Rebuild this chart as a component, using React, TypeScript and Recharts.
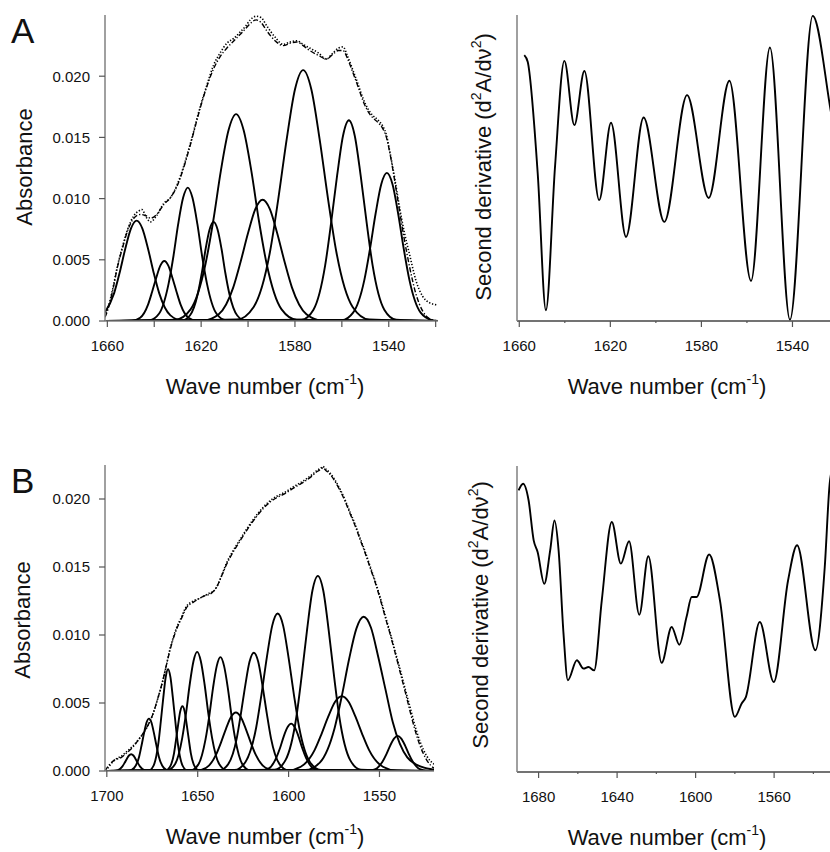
import { Line, LineChart, XAxis, YAxis } from "recharts";

type P = [number, number];

// A: Gaussian bands, [wave number, absorbance]
const bandsA: P[][] = [
  [[1661.9, 0.00046], [1657.1, 0.00228], [1654.7, 0.00399], [1652.3, 0.00595], [1649.9, 0.00757], [1647.5, 0.0082], [1645.1, 0.00757], [1642.7, 0.00595], [1640.3, 0.00399], [1637.9, 0.00228], [1633.1, 0.00046], [1628.3, 0.00005], [1519, 0]],
  [[1661, 0], [1649.5, 0.00003], [1646.0, 0.00027], [1642.6, 0.00136], [1640.9, 0.00239], [1639.1, 0.00356], [1637.4, 0.00452], [1635.7, 0.0049], [1634.0, 0.00452], [1632.3, 0.00356], [1630.5, 0.00239], [1628.8, 0.00136], [1625.4, 0.00027], [1621.9, 0.00003], [1519, 0]],
  [[1661, 0], [1642.0, 0.00007], [1637.9, 0.00061], [1633.9, 0.00303], [1631.8, 0.00531], [1629.8, 0.00791], [1627.7, 0.01006], [1625.7, 0.0109], [1623.7, 0.01006], [1621.6, 0.00791], [1619.6, 0.00531], [1617.5, 0.00303], [1613.5, 0.00061], [1609.4, 0.00007], [1519, 0]],
  [[1661, 0], [1628.1, 0.00005], [1624.8, 0.00045], [1621.4, 0.00225], [1619.7, 0.00394], [1618.1, 0.00588], [1616.4, 0.00748], [1614.7, 0.0081], [1613.0, 0.00748], [1611.3, 0.00588], [1609.7, 0.00394], [1608.0, 0.00225], [1604.6, 0.00045], [1601.3, 0.00005], [1519, 0]],
  [[1661, 0], [1631.0, 0.0001], [1624.5, 0.00095], [1618.1, 0.0047], [1614.8, 0.00823], [1611.6, 0.01227], [1608.3, 0.0156], [1605.1, 0.0169], [1601.9, 0.0156], [1598.6, 0.01227], [1595.4, 0.00823], [1592.1, 0.0047], [1585.7, 0.00095], [1579.2, 0.0001], [1519, 0]],
  [[1661, 0], [1618.8, 0.00006], [1612.5, 0.00055], [1606.3, 0.00275], [1603.2, 0.00482], [1600.0, 0.00719], [1596.9, 0.00914], [1593.8, 0.0099], [1590.7, 0.00914], [1587.6, 0.00719], [1584.4, 0.00482], [1581.3, 0.00275], [1575.1, 0.00055], [1568.8, 0.00006], [1519, 0]],
  [[1661, 0], [1604.7, 0.00012], [1597.6, 0.00115], [1590.6, 0.0057], [1587.1, 0.00998], [1583.5, 0.01488], [1580.0, 0.01892], [1576.5, 0.0205], [1573.0, 0.01892], [1569.5, 0.01488], [1565.9, 0.00998], [1562.4, 0.0057], [1555.4, 0.00115], [1548.3, 0.00012], [1519, 0]],
  [[1661, 0], [1577.2, 0.0001], [1572.1, 0.00092], [1567.1, 0.00456], [1564.6, 0.00799], [1562.0, 0.01191], [1559.5, 0.01514], [1557.0, 0.0164], [1554.5, 0.01514], [1552.0, 0.01191], [1549.4, 0.00799], [1546.9, 0.00456], [1541.9, 0.00092], [1536.8, 0.0001], [1519, 0]],
  [[1661, 0], [1560.0, 0.00007], [1555.2, 0.00068], [1550.4, 0.00336], [1548.0, 0.00589], [1545.6, 0.00878], [1543.2, 0.01117], [1540.8, 0.0121], [1538.4, 0.01117], [1536.0, 0.00878], [1533.6, 0.00589], [1531.2, 0.00336], [1526.4, 0.00068], [1521.6, 0.00007], [1519, 0]],
];

const measuredA: P[] = [
  [1661, 0.0004], [1660, 0.0009], [1657.5, 0.0028], [1655.8, 0.0044], [1653.5, 0.0061], [1651.5, 0.0074], [1648.7, 0.0086],
  [1646.5, 0.009], [1645.2, 0.0091], [1643.5, 0.0085], [1641.6, 0.0081], [1639, 0.0086], [1636, 0.0096], [1633, 0.0101],
  [1630.3, 0.0111], [1627.5, 0.0126], [1624.6, 0.0145], [1620.4, 0.0175], [1617.5, 0.0193], [1614.7, 0.0209], [1611.9, 0.0219],
  [1609, 0.0227], [1606, 0.0231], [1603.4, 0.0236], [1601, 0.0241], [1599.1, 0.0246], [1596.5, 0.0249], [1594.5, 0.0248],
  [1592, 0.0241], [1588.5, 0.0232], [1585, 0.0226], [1582, 0.0228], [1579.3, 0.0229], [1576.5, 0.0226], [1573.7, 0.0223],
  [1570, 0.0219], [1566.6, 0.0214], [1563.8, 0.0219], [1561.5, 0.0223], [1559.5, 0.0224], [1557.5, 0.0216], [1555.3, 0.0205],
  [1553, 0.0193], [1551, 0.0182], [1548.8, 0.0173], [1546.8, 0.0168], [1544.5, 0.0164], [1542.5, 0.0159], [1541, 0.0152],
  [1539.7, 0.014], [1537.5, 0.0117], [1535.4, 0.0093], [1533.3, 0.0072], [1531.2, 0.0055], [1528.4, 0.0033], [1525.5, 0.002],
  [1522.7, 0.0015], [1519, 0.0013],
];

const fittedA: P[] = [
  [1661, 0.0003], [1660, 0.0008], [1657.5, 0.0027], [1655.8, 0.0043], [1653.5, 0.006], [1651.5, 0.0073], [1648.7, 0.0084],
  [1646, 0.0087], [1643.5, 0.0086], [1641.6, 0.0084], [1639, 0.0087], [1636, 0.0095], [1633, 0.0101], [1630.3, 0.011],
  [1627.5, 0.0125], [1624.6, 0.0144], [1620.4, 0.0174], [1617.5, 0.0192], [1614.7, 0.0206], [1611.9, 0.0216], [1609, 0.0223],
  [1606, 0.0229], [1603.4, 0.0234], [1601, 0.0239], [1599.1, 0.0243], [1596.5, 0.0246], [1594.5, 0.0244], [1592, 0.0237],
  [1588.5, 0.0229], [1585, 0.0225], [1582, 0.0227], [1579.3, 0.0228], [1576.5, 0.0225], [1573.7, 0.0221], [1570, 0.0217],
  [1566.6, 0.0214], [1563.8, 0.0218], [1561.5, 0.0221], [1559.5, 0.0221], [1557.5, 0.0214], [1555.3, 0.0203], [1553, 0.0191],
  [1551, 0.018], [1548.8, 0.0171], [1546.8, 0.0166], [1544.5, 0.0162], [1542.5, 0.0157], [1541, 0.015], [1539.7, 0.0139],
  [1537.5, 0.0115], [1535.4, 0.009], [1533.3, 0.0066], [1531.2, 0.0045], [1528.4, 0.0022], [1525.5, 0.0008], [1522.7, 0.0002],
  [1519, 0],
];

// second derivative, arbitrary units (0 = frame bottom, 100 = frame top)
const secondDerivA: P[] = [
  [1657.8, 86.9], [1656.3, 84.7], [1651.9, 48.2], [1648.3, 3.5], [1644.3, 50.4], [1640.2, 85.0], [1635.8, 64.0],
  [1631.4, 81.7], [1624.9, 39.5], [1619.7, 64.8], [1613.1, 27.5], [1605.4, 66.5], [1596.3, 32.4], [1586.3, 73.8],
  [1576.8, 40.2], [1567.7, 78.5], [1558.2, 13.1], [1549.9, 89.4], [1541.1, 0.4], [1531.1, 99.7], [1523, 67.8], [1520, 55],
];

// B
const bandsB: P[][] = [
  [[1701, 0], [1696.2, 0.00001], [1693.8, 0.00007], [1691.4, 0.00034], [1690.2, 0.0006], [1689.0, 0.00089], [1687.8, 0.00114], [1686.6, 0.00123], [1685.4, 0.00114], [1684.2, 0.00089], [1683.0, 0.0006], [1681.8, 0.00034], [1679.4, 0.00007], [1677.0, 0.00001], [1520, 0]],
  [[1701, 0], [1687.7, 0.00002], [1685.0, 0.00022], [1682.2, 0.00107], [1680.9, 0.00187], [1679.5, 0.0028], [1678.2, 0.00355], [1676.8, 0.00385], [1675.4, 0.00355], [1674.1, 0.0028], [1672.7, 0.00187], [1671.4, 0.00107], [1668.6, 0.00022], [1665.9, 0.00002], [1520, 0]],
  [[1701, 0], [1676.9, 0.00004], [1674.2, 0.00042], [1671.6, 0.00208], [1670.3, 0.00364], [1668.9, 0.00543], [1667.6, 0.0069], [1666.3, 0.00748], [1665.0, 0.0069], [1663.7, 0.00543], [1662.3, 0.00364], [1661.0, 0.00208], [1658.4, 0.00042], [1655.7, 0.00004], [1520, 0]],
  [[1701, 0], [1667.7, 0.00003], [1665.4, 0.00027], [1663.0, 0.00132], [1661.9, 0.00232], [1660.7, 0.00346], [1659.6, 0.00439], [1658.4, 0.00476], [1657.2, 0.00439], [1656.1, 0.00346], [1654.9, 0.00232], [1653.8, 0.00132], [1651.4, 0.00027], [1649.1, 0.00003], [1520, 0]],
  [[1701, 0], [1666.6, 0.00005], [1662.5, 0.00049], [1658.5, 0.00244], [1656.4, 0.00427], [1654.4, 0.00636], [1652.3, 0.00809], [1650.3, 0.00876], [1648.3, 0.00809], [1646.2, 0.00636], [1644.2, 0.00427], [1642.1, 0.00244], [1638.1, 0.00049], [1634.0, 0.00005], [1520, 0]],
  [[1701, 0], [1653.8, 0.00005], [1649.7, 0.00047], [1645.7, 0.00233], [1643.6, 0.00408], [1641.6, 0.00608], [1639.5, 0.00773], [1637.5, 0.00837], [1635.5, 0.00773], [1633.4, 0.00608], [1631.4, 0.00408], [1629.3, 0.00233], [1625.3, 0.00047], [1621.2, 0.00005], [1520, 0]],
  [[1701, 0], [1650.8, 0.00003], [1645.3, 0.00024], [1639.9, 0.0012], [1637.2, 0.00209], [1634.4, 0.00312], [1631.7, 0.00397], [1629.0, 0.0043], [1626.3, 0.00397], [1623.6, 0.00312], [1620.8, 0.00209], [1618.1, 0.0012], [1612.7, 0.00024], [1607.2, 0.00003], [1520, 0]],
  [[1701, 0], [1638.0, 0.00005], [1633.3, 0.00049], [1628.5, 0.00242], [1626.2, 0.00424], [1623.8, 0.00632], [1621.5, 0.00803], [1619.1, 0.0087], [1616.7, 0.00803], [1614.4, 0.00632], [1612.0, 0.00424], [1609.7, 0.00242], [1604.9, 0.00049], [1600.2, 0.00005], [1520, 0]],
  [[1701, 0], [1629.7, 0.00007], [1623.8, 0.00065], [1617.8, 0.00322], [1614.9, 0.00564], [1611.9, 0.00841], [1609.0, 0.01069], [1606.0, 0.01158], [1603.0, 0.01069], [1600.1, 0.00841], [1597.1, 0.00564], [1594.2, 0.00322], [1588.2, 0.00065], [1582.3, 0.00007], [1520, 0]],
  [[1701, 0], [1614.9, 0.00002], [1610.8, 0.00019], [1606.8, 0.00097], [1604.7, 0.00169], [1602.7, 0.00253], [1600.6, 0.00321], [1598.6, 0.00348], [1596.6, 0.00321], [1594.5, 0.00253], [1592.5, 0.00169], [1590.4, 0.00097], [1586.4, 0.00019], [1582.3, 0.00002], [1520, 0]],
  [[1701, 0], [1607.6, 0.00009], [1601.7, 0.0008], [1595.7, 0.00399], [1592.8, 0.00699], [1589.8, 0.01042], [1586.9, 0.01325], [1583.9, 0.01435], [1580.9, 0.01325], [1578.0, 0.01042], [1575.0, 0.00699], [1572.1, 0.00399], [1566.1, 0.0008], [1560.2, 0.00009], [1520, 0]],
  [[1701, 0], [1600.8, 0.00003], [1593.3, 0.00031], [1585.7, 0.00153], [1582.0, 0.00268], [1578.2, 0.00399], [1574.5, 0.00508], [1570.7, 0.0055], [1566.9, 0.00508], [1563.2, 0.00399], [1559.4, 0.00268], [1555.7, 0.00153], [1548.1, 0.00031], [1540.6, 0.00003], [1520, 0]],
  [[1701, 0], [1590.7, 0.00007], [1582.7, 0.00064], [1574.7, 0.00315], [1570.7, 0.00552], [1566.7, 0.00823], [1562.7, 0.01047], [1558.7, 0.01134], [1554.7, 0.01055], [1550.7, 0.0084], [1546.7, 0.006], [1542.7, 0.0036], [1534.7, 0.001], [1526.7, 0.0003], [1520, 0.0001]],
  [[1701, 0], [1556.3, 0.00002], [1552.2, 0.00014], [1548.2, 0.00072], [1546.1, 0.00126], [1544.1, 0.00187], [1542.0, 0.00238], [1540.0, 0.00258], [1538.0, 0.00238], [1535.9, 0.00187], [1533.9, 0.00126], [1531.8, 0.00072], [1527.8, 0.00014], [1523.7, 0.00002], [1520, 0]],
];

const measuredB: P[] = [
  [1699.5, 0.0002], [1695.8, 0.0008], [1692, 0.0011], [1689.3, 0.0014], [1686, 0.0018], [1682, 0.0024], [1678, 0.0032],
  [1674.6, 0.0042], [1671.8, 0.0054], [1669.1, 0.0067], [1667.2, 0.0078], [1665.4, 0.0089], [1663.5, 0.0098], [1661.7, 0.0105],
  [1659, 0.0113], [1656.2, 0.0121], [1652.5, 0.0125], [1648.9, 0.0127], [1646, 0.0129], [1643.3, 0.0131], [1641.5, 0.0132],
  [1639.7, 0.0135], [1637, 0.0143], [1634.1, 0.0153], [1630.5, 0.0162], [1626.8, 0.017], [1623, 0.0178], [1619.4, 0.0185],
  [1616.5, 0.019], [1613.9, 0.0194], [1610, 0.0199], [1606.5, 0.0202], [1602, 0.0205], [1597.3, 0.0209], [1593.5, 0.0212],
  [1590, 0.0215], [1587, 0.0218], [1584.5, 0.0221], [1582, 0.0223], [1581.2, 0.0224], [1579.5, 0.0222], [1577.1, 0.0219],
  [1574.5, 0.0214], [1571.6, 0.0207], [1568.8, 0.0199], [1566.1, 0.019], [1563.3, 0.0181], [1560.6, 0.0171], [1557.8, 0.0161],
  [1555, 0.015], [1552.2, 0.0139], [1549.5, 0.0127], [1546.8, 0.0114], [1544, 0.0101], [1541.2, 0.0087], [1538.5, 0.0074],
  [1535.8, 0.006], [1533, 0.0046], [1530.2, 0.0032], [1527.5, 0.0021], [1524, 0.0011], [1520, 0.0005],
];

const fittedB: P[] = [
  [1701, 0], [1699, 0.0004], [1695.8, 0.0008], [1692, 0.001], [1689.3, 0.0013], [1686, 0.0017], [1682, 0.0024], [1678, 0.0032],
  [1674.6, 0.0042], [1671.8, 0.0054], [1669.1, 0.0067], [1667.2, 0.0078], [1665.4, 0.0088], [1663.5, 0.0097], [1661.7, 0.0104],
  [1659, 0.0112], [1656.2, 0.012], [1652.5, 0.0124], [1648.9, 0.0127], [1646, 0.0129], [1643.3, 0.013], [1641.5, 0.0132],
  [1639.7, 0.0135], [1637, 0.0143], [1634.1, 0.0152], [1630.5, 0.0161], [1626.8, 0.0169], [1623, 0.0177], [1619.4, 0.0184],
  [1616.5, 0.0189], [1613.9, 0.0193], [1610, 0.0198], [1606.5, 0.0201], [1602, 0.0204], [1597.3, 0.0208], [1593.5, 0.0211],
  [1590, 0.0214], [1587, 0.0217], [1584.5, 0.022], [1582, 0.0222], [1581.2, 0.0223], [1579.5, 0.0221], [1577.1, 0.0218],
  [1574.5, 0.0213], [1571.6, 0.0206], [1568.8, 0.0198], [1566.1, 0.0189], [1563.3, 0.018], [1560.6, 0.017], [1557.8, 0.016],
  [1555, 0.0149], [1552.2, 0.0138], [1549.5, 0.0126], [1546.8, 0.0113], [1544, 0.01], [1541.2, 0.0086], [1538.5, 0.0072],
  [1535.8, 0.0058], [1533, 0.0043], [1530.2, 0.0029], [1527.5, 0.0018], [1524, 0.0008], [1520, 0.0002],
];

const secondDerivB: P[] = [
  [1690.2, 92.0], [1687.9, 94.2], [1685.1, 88.8], [1682.5, 75.7], [1680.5, 71.9], [1677.1, 61.5], [1674.1, 72.4],
  [1671.9, 82.2], [1669.8, 72.4], [1667.3, 45.2], [1665.1, 30.0], [1660.5, 36.5], [1657.1, 33.8], [1654.6, 34.3],
  [1651.7, 33.2], [1647.8, 56.1], [1642.7, 81.7], [1638.1, 68.1], [1633.9, 75.4], [1628.7, 51.4], [1624.1, 70.5],
  [1617.3, 35.7], [1612.2, 47.4], [1608.3, 41.6], [1604.6, 50.7], [1602, 57.2], [1599.5, 57.2], [1593.1, 71.1],
  [1587.6, 56.1], [1580, 18.0], [1576.6, 22.3], [1574.4, 24.5], [1567.3, 49.0], [1560.2, 29.4], [1552.9, 62.6],
  [1548.3, 74.1], [1539, 39.8], [1534.2, 67.0], [1531.7, 94.2], [1530, 100],
];

// axis ticks and the ticks that carry labels
const ticksA = [1660, 1640, 1620, 1600, 1580, 1560, 1540, 1520];
const labelsA = [1660, 1620, 1580, 1540];
const ticksBL = [1700, 1650, 1600, 1550];
const ticksBR = [1680, 1660, 1640, 1620, 1600, 1580, 1560, 1540];
const labelsBR = [1680, 1640, 1600, 1560];
const absTicksA = [0, 0.005, 0.01, 0.015, 0.02];
const absTicksB = [0, 0.005, 0.01, 0.015, 0.02];

const toPts = (arr: P[]) => arr.map(([x, y]) => ({ x, y }));

const FRAME = "#808080";
const TICK = "#555";

const XTick = (props: any) => {
  const { x, y, payload, labels, minorLen } = props;
  const major = labels.includes(payload.value);
  return (
    <g>
      <line x1={x} x2={x} y1={y} y2={y + (major ? 6 : minorLen)} stroke={TICK} strokeWidth={1.2} />
      {major && (
        <text x={x} y={y + 30} textAnchor="middle" fontSize={15} fill="#111">
          {payload.value}
        </text>
      )}
    </g>
  );
};

const frameAxes = () => [
  <XAxis key="ft" xAxisId="top" orientation="top" height={0} tick={false} tickLine={false} axisLine={{ stroke: FRAME, strokeWidth: 1.5 }} />,
  <YAxis key="fr" yAxisId="right" orientation="right" width={0} tick={false} tickLine={false} axisLine={{ stroke: FRAME, strokeWidth: 1.5 }} />,
];

const BandPanel = (p: {
  width: number; height: number; margin: any; domain: [number, number]; yMax: number;
  ticks: number[]; labels: number[]; minorLen: number; yTicks: number[];
  bands: P[][]; measured: P[]; fitted: P[];
}) => (
  <LineChart width={p.width} height={p.height} margin={p.margin}>
    <XAxis
      dataKey="x" type="number" domain={p.domain} reversed allowDataOverflow
      ticks={p.ticks} interval={0} tickSize={0} tickMargin={0}
      tick={(t: any) => <XTick {...t} labels={p.labels} minorLen={p.minorLen} />}
      height={39} axisLine={{ stroke: FRAME, strokeWidth: 1.5 }}
    />
    <YAxis
      type="number" domain={[0, p.yMax]} allowDataOverflow ticks={p.yTicks} interval={0}
      width={105} tickSize={6} tickMargin={9}
      tickFormatter={(v: number) => v.toFixed(3)}
      tick={{ fontSize: 15, fill: "#111" }}
      tickLine={{ stroke: TICK, strokeWidth: 1.2 }}
      axisLine={{ stroke: FRAME, strokeWidth: 1.5 }}
    />
    {frameAxes()}
    <Line data={toPts(p.measured)} dataKey="y" type="monotone" stroke="#000" strokeWidth={1.6}
      strokeDasharray="1.3 1.8" dot={false} isAnimationActive={false} />
    <Line data={toPts(p.fitted)} dataKey="y" type="monotone" stroke="#000" strokeWidth={1.4}
      strokeDasharray="5 2 1.3 2" dot={false} isAnimationActive={false} />
    {p.bands.map((b, i) => (
      <Line key={i} data={toPts(b)} dataKey="y" type="monotone" stroke="#000" strokeWidth={1.9}
        dot={false} isAnimationActive={false} />
    ))}
  </LineChart>
);

const DerivPanel = (p: {
  width: number; height: number; margin: any; domain: [number, number];
  ticks: number[]; labels: number[]; data: P[];
}) => (
  <LineChart width={p.width} height={p.height} margin={p.margin}>
    <XAxis
      dataKey="x" type="number" domain={p.domain} reversed allowDataOverflow
      ticks={p.ticks} interval={0} tickSize={0} tickMargin={0}
      tick={(t: any) => <XTick {...t} labels={p.labels} minorLen={2} />}
      height={39} axisLine={{ stroke: "#444", strokeWidth: 1.5 }}
    />
    <YAxis type="number" domain={[0, 100]} allowDataOverflow width={77} tick={false} tickLine={false}
      axisLine={{ stroke: FRAME, strokeWidth: 1.5 }} />
    {frameAxes()}
    <Line data={toPts(p.data)} dataKey="y" type="monotone" stroke="#000" strokeWidth={1.9}
      dot={false} isAnimationActive={false} />
  </LineChart>
);

const abs = (style: any) => ({ position: "absolute" as const, ...style });
const title = (left: number, top: number) =>
  abs({ left, top, transform: "translateX(-50%)", fontSize: 22, lineHeight: "22px", whiteSpace: "nowrap" });
const vtitle = (left: number, top: number) =>
  abs({ left, top, transform: "translate(-50%, -50%) rotate(-90deg)", fontSize: 22, lineHeight: "22px", whiteSpace: "nowrap" });
const sup = { fontSize: 14, verticalAlign: "top", lineHeight: "14px", position: "relative" as const, top: -4 };

export default function App() {
  return (
    <div style={{ position: "absolute", left: 0, top: 0, width: 830, height: 852, overflow: "hidden",
      background: "#fff", color: "#111", fontFamily: '"Liberation Sans", Arial, sans-serif' }}>
      <div style={abs({ left: 0, top: 0 })}>
        <BandPanel width={440} height={360} margin={{ top: 15, right: 2, bottom: 0, left: 0 }}
          domain={[1519, 1661]} yMax={0.025} ticks={ticksA} labels={labelsA} minorLen={6} yTicks={absTicksA}
          bands={bandsA} measured={measuredA} fitted={fittedA} />
      </div>
      <div style={abs({ left: 440, top: 0 })}>
        <DerivPanel width={400} height={360} margin={{ top: 15, right: 2, bottom: 0, left: 0 }}
          domain={[1520, 1661]} ticks={ticksA} labels={labelsA} data={secondDerivA} />
      </div>
      <div style={abs({ left: 0, top: 450 })}>
        <BandPanel width={440} height={360} margin={{ top: 15, right: 6, bottom: 0, left: 0 }}
          domain={[1520, 1701]} yMax={0.0225} ticks={ticksBL} labels={ticksBL} minorLen={6} yTicks={absTicksB}
          bands={bandsB} measured={measuredB} fitted={fittedB} />
      </div>
      <div style={abs({ left: 440, top: 450 })}>
        <DerivPanel width={400} height={361} margin={{ top: 16, right: 7, bottom: 0, left: 0 }}
          domain={[1530, 1691]} ticks={ticksBR} labels={labelsBR} data={secondDerivB} />
      </div>

      <div style={abs({ left: 11, top: 13, fontSize: 35, lineHeight: "35px" })}>A</div>
      <div style={abs({ left: 11, top: 463, fontSize: 35, lineHeight: "35px" })}>B</div>

      <div style={vtitle(25, 167)}>Absorbance</div>
      <div style={vtitle(484, 167)}>Second derivative (d<span style={sup}>2</span>A/dν<span style={sup}>2</span>)</div>
      <div style={vtitle(23, 620)}>Absorbance</div>
      <div style={vtitle(481, 615)}>Second derivative (d<span style={sup}>2</span>A/dν<span style={sup}>2</span>)</div>

      <div style={title(265, 376)}>Wave number (cm<span style={sup}>-1</span>)</div>
      <div style={title(667, 376)}>Wave number (cm<span style={sup}>-1</span>)</div>
      <div style={title(265, 826)}>Wave number (cm<span style={sup}>-1</span>)</div>
      <div style={title(667, 827)}>Wave number (cm<span style={sup}>-1</span>)</div>
    </div>
  );
}
